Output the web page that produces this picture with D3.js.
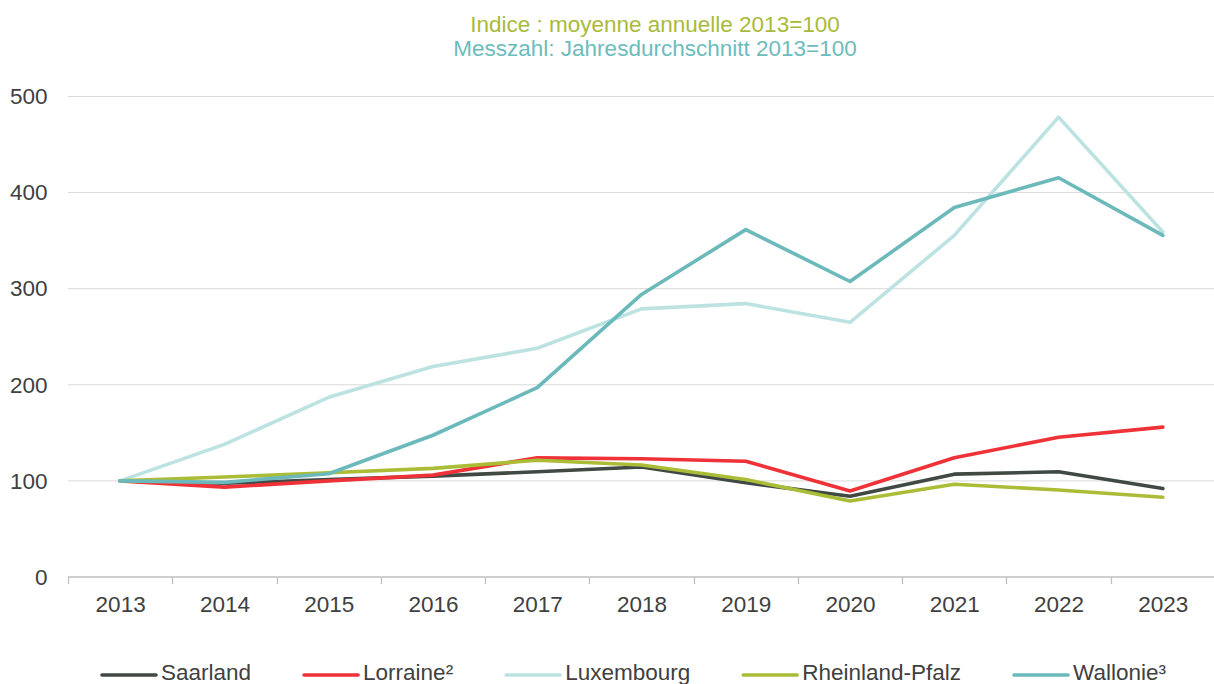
<!DOCTYPE html>
<html>
<head>
<meta charset="utf-8">
<script src="https://cdn.jsdelivr.net/npm/d3@7"></script>
<style>
  body { margin: 0; background: #fff; }
  svg { display: block; font-family: "Liberation Sans", Arial, sans-serif; }
</style>
</head>
<body>
<svg id="chart" width="1214" height="684"></svg>
<script>
const years = ["2013","2014","2015","2016","2017","2018","2019","2020","2021","2022","2023"];
const seriesNames = ["Saarland","Lorraine²","Luxembourg","Rheinland-Pfalz","Wallonie³"];
const saarland       = [100, 97.5, 101.5, 105, 109.5, 114.5, 98, 84, 107, 109.5, 92];
const lorraine       = [100, 93.5, 100, 106, 124, 123, 120.5, 89.5, 124, 145.5, 156];
const luxembourg     = [100, 138, 187, 219, 238, 279, 284.5, 265, 355.5, 478.5, 359];
const rheinlandPfalz = [100, 104, 108.5, 113, 121.5, 116.5, 101.5, 79, 96.5, 90.5, 83];
const wallonie       = [100, 98.5, 107.5, 147.5, 197, 294, 361.5, 307.5, 384.5, 415.5, 355.5];
const seriesValues = [saarland, lorraine, luxembourg, rheinlandPfalz, wallonie];
const seriesColors = ["#404944", "#ee3237", "#bce3e1", "#abbd37", "#6bb9ba"];
const yTicks = [0, 100, 200, 300, 400, 500];
const titleLines = ["Indice : moyenne annuelle 2013=100", "Messzahl: Jahresdurchschnitt 2013=100"];
const titleColors = ["#a9ba3a", "#6cbcbd"];

(function () {
const svg = d3.select("#chart");
const mLeft = 68, mRight = 1215, mTop = 96.5, mBottom = 577;
const textColor = "#404040";
const fs = 22.5;

const x = d3.scalePoint().domain(years).range([mLeft, mRight]).padding(0.5);
const xb = d3.scaleBand().domain(years).range([mLeft, mRight]);
const y = d3.scaleLinear().domain([0, 500]).range([mBottom, mTop]);

// Title
titleLines.forEach((t, i) => {
  svg.append("text").attr("x", 655).attr("y", 32 + i * 24)
    .attr("text-anchor", "middle").attr("font-size", fs).attr("fill", titleColors[i]).text(t);
});

// Gridlines
svg.append("g").selectAll("line").data(yTicks.filter(d => d > 0)).join("line")
  .attr("x1", mLeft).attr("x2", 1214)
  .attr("y1", d => y(d)).attr("y2", d => y(d))
  .attr("stroke", "#d9d9d9").attr("stroke-width", 1);

// Y axis labels
const yAxis = d3.axisLeft(y).tickValues(yTicks).tickSize(0).tickPadding(0);
const gy = svg.append("g").attr("transform", "translate(47.5,0)").call(yAxis);
gy.select(".domain").remove();
gy.selectAll("text").attr("font-size", fs).attr("fill", textColor).attr("font-family", "Liberation Sans, Arial, sans-serif");

// X axis
const xAxis = d3.axisBottom(x).tickSize(0).tickPadding(0);
const gx = svg.append("g").attr("transform", `translate(0,${mBottom})`).call(xAxis);
gx.select(".domain").remove();
gx.selectAll("text").attr("font-size", fs).attr("fill", textColor).attr("dy", null).attr("y", 34.5)
  .attr("font-family", "Liberation Sans, Arial, sans-serif");
svg.append("line").attr("x1", mLeft).attr("x2", 1214).attr("y1", mBottom).attr("y2", mBottom)
  .attr("stroke", "#bfbfbf").attr("stroke-width", 1.3);
const bounds = years.map(d => xb(d)).concat([xb(years[years.length - 1]) + xb.bandwidth()]);
svg.append("g").selectAll("line").data(bounds.filter(b => b < 1214)).join("line")
  .attr("x1", d => Math.round(d) + 0.5).attr("x2", d => Math.round(d) + 0.5)
  .attr("y1", mBottom).attr("y2", mBottom + 7)
  .attr("stroke", "#bfbfbf").attr("stroke-width", 1.3);

// Lines
const line = d3.line().x((d, i) => x(years[i])).y(d => y(d));
seriesValues.forEach((vals, k) => {
  svg.append("path").datum(vals).attr("d", line)
    .attr("fill", "none").attr("stroke", seriesColors[k]).attr("stroke-width", 3.6)
    .attr("stroke-linejoin", "round").attr("stroke-linecap", "round");
});

// Legend
let lx = 102;
const ly = 675;
seriesNames.forEach((name, k) => {
  svg.append("line").attr("x1", lx).attr("x2", lx + 54).attr("y1", ly).attr("y2", ly)
    .attr("stroke", seriesColors[k]).attr("stroke-width", 3.6).attr("stroke-linecap", "round");
  const t = svg.append("text").attr("x", lx + 59).attr("y", 679.5)
    .attr("font-size", fs).attr("fill", textColor).text(name);
  const w = t.node().getComputedTextLength();
  lx = lx + 59 + w + 53;
});
})();
</script>
</body>
</html>
